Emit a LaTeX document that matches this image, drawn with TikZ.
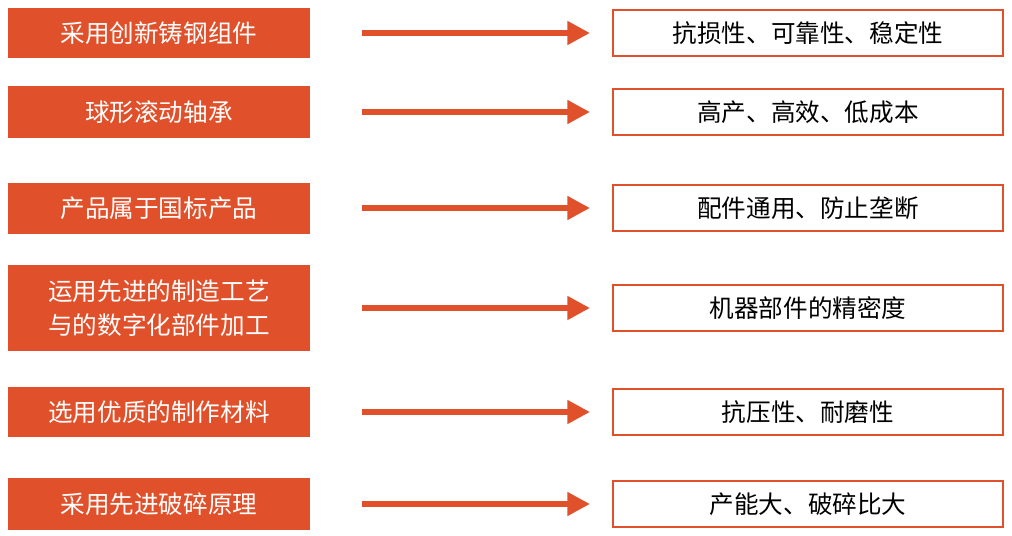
\documentclass[tikz,border=0pt]{standalone}
\usepackage{fontspec}
\newfontfamily\cjk{Noto Sans CJK SC}
\usetikzlibrary{arrows.meta}
\definecolor{brick}{HTML}{E0512B}
\begin{document}
\begin{tikzpicture}[x=0.02cm, y=-0.02cm,
    cause/.style={fill=brick, text=white, minimum width=6.04cm, align=center, font=\cjk\fontsize{14}{19}\selectfont, inner sep=0pt},
    effect/.style={draw=brick, line width=1.2pt, minimum width=7.8cm, minimum height=0.92cm, font=\cjk\fontsize{14}{19}\selectfont, inner sep=0pt},
    link/.style={brick, line width=3.4pt, -{Triangle[length=0.45cm, width=0.45cm]}}]
    \useasboundingbox (0,0) rectangle (1012,535);
    \node[cause, minimum height=1.0cm] (c1) at (159,33) {采用创新铸钢组件};
    \node[cause, minimum height=1.04cm] (c2) at (159,112) {球形滚动轴承};
    \node[cause, minimum height=1.02cm] (c3) at (159,208) {产品属于国标产品};
    \node[cause, minimum height=1.74cm] (c4) at (159,308) {运用先进的制造工艺\\与的数字化部件加工};
    \node[cause, minimum height=1.0cm] (c5) at (159,412) {选用优质的制作材料};
    \node[cause, minimum height=1.04cm] (c6) at (159,504) {采用先进破碎原理};

    \node[effect] (e1) at (808,33) {抗损性、可靠性、稳定性};
    \node[effect] (e2) at (808,112) {高产、高效、低成本};
    \node[effect] (e3) at (808,208) {配件通用、防止垄断};
    \node[effect] (e4) at (808,308) {机器部件的精密度};
    \node[effect] (e5) at (808,412) {抗压性、耐磨性};
    \node[effect] (e6) at (808,504) {产能大、破碎比大};

    \foreach \i in {1,...,6}
        \draw[link] ([xshift=1.04cm]c\i.east) -- ([xshift=-0.44cm]e\i.west);
\end{tikzpicture}
\end{document}
